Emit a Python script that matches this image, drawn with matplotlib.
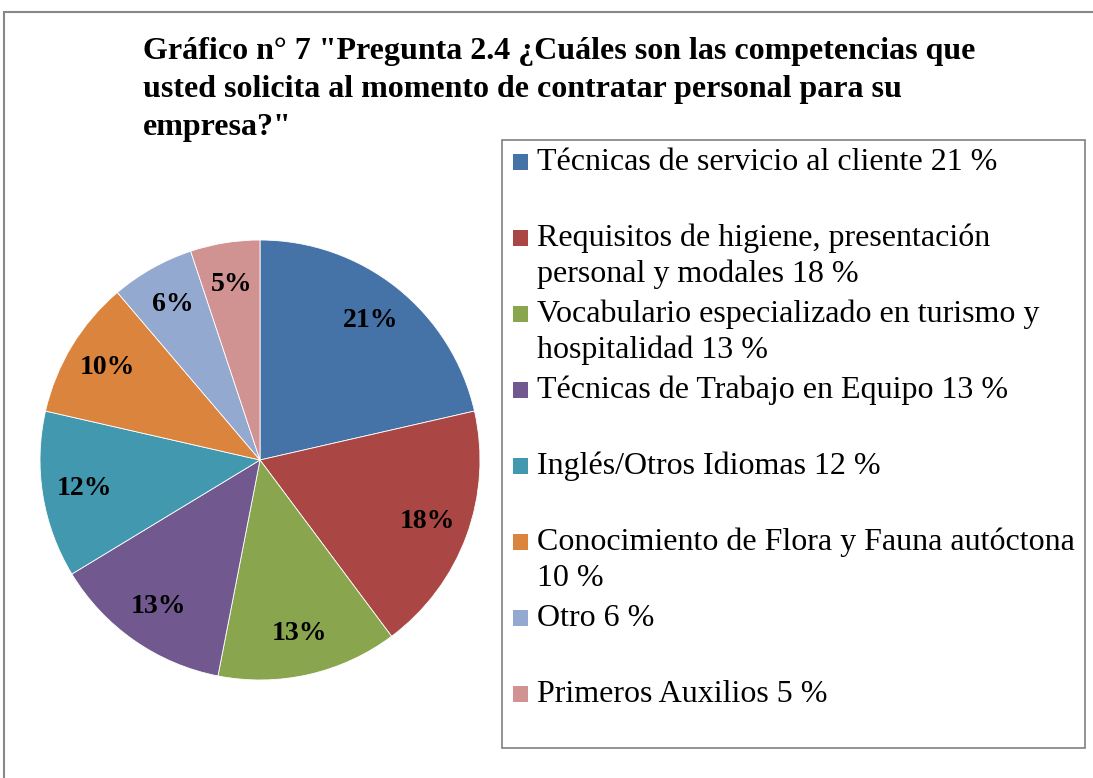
import matplotlib
matplotlib.use("Agg")
from matplotlib import pyplot as plt
from matplotlib.patches import Rectangle

plt.rcParams['font.family'] = ['Liberation Serif', 'DejaVu Serif']

# datos del gráfico
categorias = ["Técnicas de servicio al cliente", "Requisitos de higiene, presentación personal y modales",
              "Vocabulario especializado en turismo y hospitalidad", "Técnicas de Trabajo en Equipo",
              "Inglés/Otros Idiomas", "Conocimiento de Flora y Fauna autóctona", "Otro", "Primeros Auxilios"]
valores = [21, 18, 13, 13, 12, 10, 6, 5]
# texto de la leyenda tal como aparece (con cortes de línea)
leyenda = ["Técnicas de servicio al cliente 21 %",
           "Requisitos de higiene, presentación\npersonal y modales 18 %",
           "Vocabulario especializado en turismo y\nhospitalidad 13 %",
           "Técnicas de Trabajo en Equipo 13 %",
           "Inglés/Otros Idiomas 12 %",
           "Conocimiento de Flora y Fauna autóctona\n10 %",
           "Otro 6 %",
           "Primeros Auxilios 5 %"]
colores = ['#4572A7', '#AA4643', '#89A54E', '#71588F', '#4198AF', '#DB843D', '#93A9CF', '#D19392']

W, H = 1093, 778
fig = plt.figure(figsize=(W / 100, H / 100), dpi=100)

def fx(x):
    return x / W

def fy(y):
    return 1 - y / H

# marco exterior
fig.patches.append(Rectangle((fx(4), fy(790)), fx(1100) - fx(4), fy(12) - fy(790),
                             transform=fig.transFigure, fill=False, edgecolor='#888888', lw=1.5))

# titulo
titulo = ['Gráfico n° 7 "Pregunta 2.4 ¿Cuáles son las competencias que',
          'usted solicita al momento de contratar personal para su',
          'empresa?"']
for i, linea in enumerate(titulo):
    fig.text(fx(143), fy(51 + 38.5 * i), linea, fontsize=23, fontweight='bold', va='center', ha='left')

# pastel
cx, cy, r = 260, 460, 220
ax = fig.add_axes([fx(cx - r), fy(cy + r), 2 * r / W, 2 * r / H])
total = sum(valores)
wedges, textos, autotextos = ax.pie(valores, colors=colores, startangle=90, counterclock=False,
                                    autopct=lambda p: '%d%%' % round(p * total / 100),
                                    pctdistance=0.81, radius=1,
                                    wedgeprops=dict(edgecolor='white', linewidth=0.6),
                                    textprops=dict(fontsize=20, fontweight='bold', color='black'))
ax.set_xlim(-1, 1)
ax.set_ylim(-1, 1)
ax.set_aspect('equal')

# leyenda (dibujada a mano para imitar el espaciado de Excel)
fig.patches.append(Rectangle((fx(502), fy(748)), fx(1085) - fx(502), fy(140) - fy(748),
                             transform=fig.transFigure, fill=False, edgecolor='#808080', lw=1.2))
for i, (txt, c) in enumerate(zip(leyenda, colores)):
    y0 = 162 + 76 * i
    fig.patches.append(Rectangle((fx(513), fy(y0 + 8)), 15 / W, 16 / H,
                                 transform=fig.transFigure, facecolor=c, edgecolor='none'))
    for j, linea in enumerate(txt.split('\n')):
        fig.text(fx(537), fy(y0 + 36 * j), linea, fontsize=23, va='center', ha='left')

fig.savefig('out.png', dpi=100)
